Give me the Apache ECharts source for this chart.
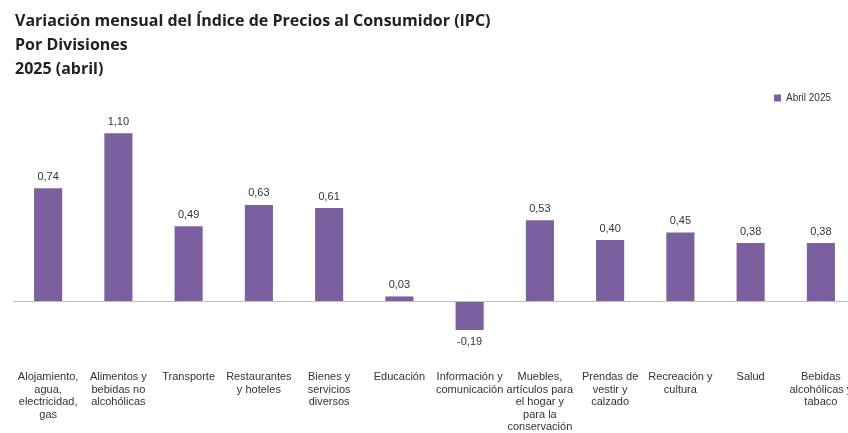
<!DOCTYPE html>
<html>
<head>
<meta charset="utf-8">
<script src="https://cdn.jsdelivr.net/npm/echarts@6/dist/echarts.min.js"></script>
<style>
html, body { margin: 0; padding: 0; background: #fff; }
#chart { width: 848px; height: 433px; }
</style>
</head>
<body>
<div id="chart"></div>
<script>
var categories = [
	'Alojamiento,\nagua,\nelectricidad,\ngas',
	'Alimentos y\nbebidas no\nalcohólicas',
	'Transporte',
	'Restaurantes\ny hoteles',
	'Bienes y\nservicios\ndiversos',
	'Educación',
	'Información y\ncomunicación',
	'Muebles,\nartículos para\nel hogar y\npara la\nconservación',
	'Prendas de\nvestir y\ncalzado',
	'Recreación y\ncultura',
	'Salud',
	'Bebidas\nalcohólicas y\ntabaco'
];
var abril2025 = [0.74, 1.10, 0.49, 0.63, 0.61, 0.03, -0.19, 0.53, 0.40, 0.45, 0.38, 0.38];
var seriesName = 'Abril 2025';
var titleText = 'Variación mensual del Índice de Precios al Consumidor (IPC)\nPor Divisiones\n2025 (abril)';

var chart = echarts.init(document.getElementById('chart'));

// etiqueta con coma decimal
function fmt(p) {
	var v = typeof p.value === 'object' ? p.value.value : p.value;
	return Number(v).toFixed(2).replace('.', ',');
}

// el valor negativo lleva la etiqueta debajo de la barra
var barData = abril2025.map(function(v) {
	if (v < 0) {
		return { value: v, label: { position: 'bottom' } };
	}
	return v;
});

var option = {
	backgroundColor: '#ffffff',
	color: ['#7b5f9e'],
	title: {
		text: titleText,
		left: 10,
		top: 4,
		textStyle: {
			fontFamily: 'Open Sans',
			fontSize: 16,
			fontWeight: 'bold',
			color: '#222222',
			lineHeight: 24
		}
	},
	legend: {
		data: [seriesName],
		right: 12,
		top: 88,
		icon: 'rect',
		itemWidth: 7,
		itemHeight: 7,
		itemGap: 4,
		textStyle: {
			fontFamily: 'Liberation Sans',
			fontSize: 10,
			color: '#333333'
		}
	},
	grid: {
		left: 13,
		width: 843,
		top: 118,
		bottom: 71,
		containLabel: false,
		outerBoundsMode: 'none'
	},
	xAxis: {
		type: 'category',
		data: categories,
		axisLine: { show: false, onZero: false },
		axisTick: { show: false },
		splitLine: { show: false },
		axisLabel: {
			interval: 0,
			margin: 9,
			fontFamily: 'Liberation Sans',
			fontSize: 11,
			lineHeight: 12.5,
			color: '#333333'
		}
	},
	yAxis: {
		type: 'value',
		min: -0.4,
		max: 1.2,
		show: false,
		splitLine: { show: false }
	},
	series: [{
		name: seriesName,
		type: 'bar',
		data: barData,
		barWidth: '40%',
		label: {
			show: true,
			position: 'top',
			distance: 6,
			fontFamily: 'Liberation Sans',
			fontSize: 11,
			color: '#333333',
			formatter: fmt
		},
		markLine: {
			silent: true,
			symbol: 'none',
			label: { show: false },
			lineStyle: { color: '#bfbfbf', type: 'solid', width: 1 },
			data: [{ yAxis: 0 }]
		}
	}]
};

chart.setOption(option);
</script>
</body>
</html>
